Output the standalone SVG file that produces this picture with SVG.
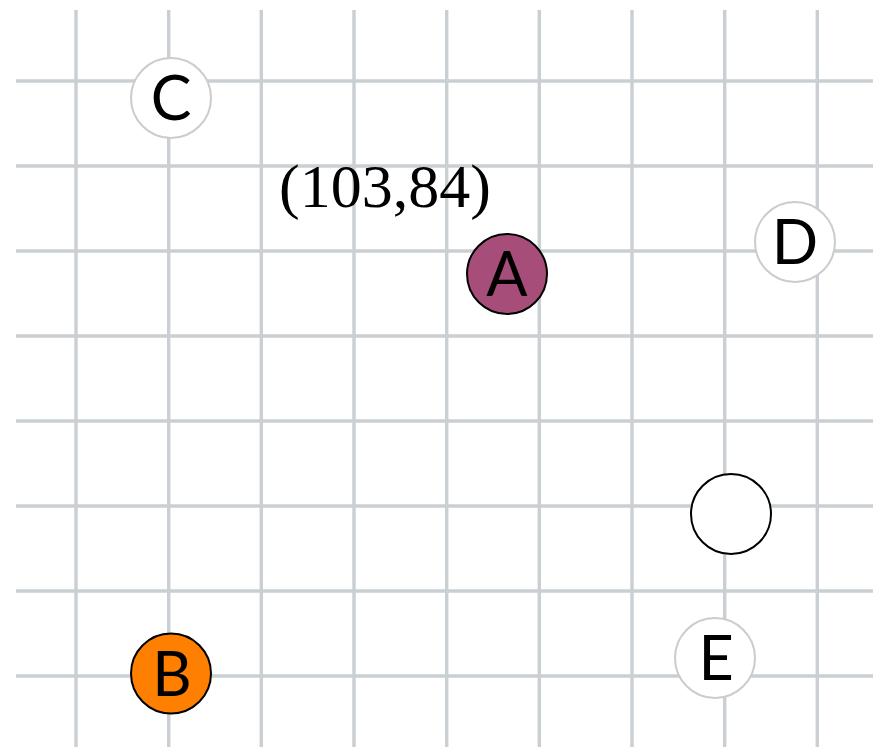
<svg xmlns="http://www.w3.org/2000/svg" width="873" height="747" viewBox="0 0 873 747">
<style>
.grid line{stroke:#c9cfd2;stroke-width:3.4}
.lbl{font-family:Lato,"Open Sans",sans-serif;font-size:61px;text-anchor:middle;fill:#000}
.light{fill:#fff;stroke:#cccccc;stroke-width:2}
.dark{stroke:#000;stroke-width:2}
</style>
<rect width="873" height="747" fill="#fff"/>
<g class="grid">
<line x1="76" y1="10" x2="76" y2="747"/>
<line x1="168.7" y1="10" x2="168.7" y2="747"/>
<line x1="261.3" y1="10" x2="261.3" y2="747"/>
<line x1="354" y1="10" x2="354" y2="747"/>
<line x1="446.7" y1="10" x2="446.7" y2="747"/>
<line x1="539.3" y1="10" x2="539.3" y2="747"/>
<line x1="632" y1="10" x2="632" y2="747"/>
<line x1="724.7" y1="10" x2="724.7" y2="747"/>
<line x1="817.3" y1="10" x2="817.3" y2="747"/>
<line x1="16" y1="81" x2="873" y2="81"/>
<line x1="16" y1="166" x2="873" y2="166"/>
<line x1="16" y1="251" x2="873" y2="251"/>
<line x1="16" y1="336" x2="873" y2="336"/>
<line x1="16" y1="421" x2="873" y2="421"/>
<line x1="16" y1="506" x2="873" y2="506"/>
<line x1="16" y1="591" x2="873" y2="591"/>
<line x1="16" y1="676" x2="873" y2="676"/>
</g>
<g id="connectors"></g>
<text x="385" y="207" font-family="'Liberation Serif',serif" font-size="62" text-anchor="middle">(103,84)</text>
<g id="C"><circle class="light" cx="171" cy="98" r="40"/><text class="lbl" x="171" y="120">C</text></g>
<g id="A"><circle class="dark" cx="507" cy="274" r="40" fill="#a64d79"/><text class="lbl" x="507" y="296">A</text></g>
<g id="D"><circle class="light" cx="795" cy="242" r="40"/><text class="lbl" x="795" y="264">D</text></g>
<g id="empty"><circle class="dark" cx="731" cy="514" r="40" fill="#fff"/></g>
<g id="E"><circle class="light" cx="715" cy="658" r="40"/><text class="lbl" x="716" y="680">E</text></g>
<g id="B"><circle class="dark" cx="171" cy="673.5" r="40" fill="#ff7f00"/><text class="lbl" x="172" y="696">B</text></g>
</svg>
